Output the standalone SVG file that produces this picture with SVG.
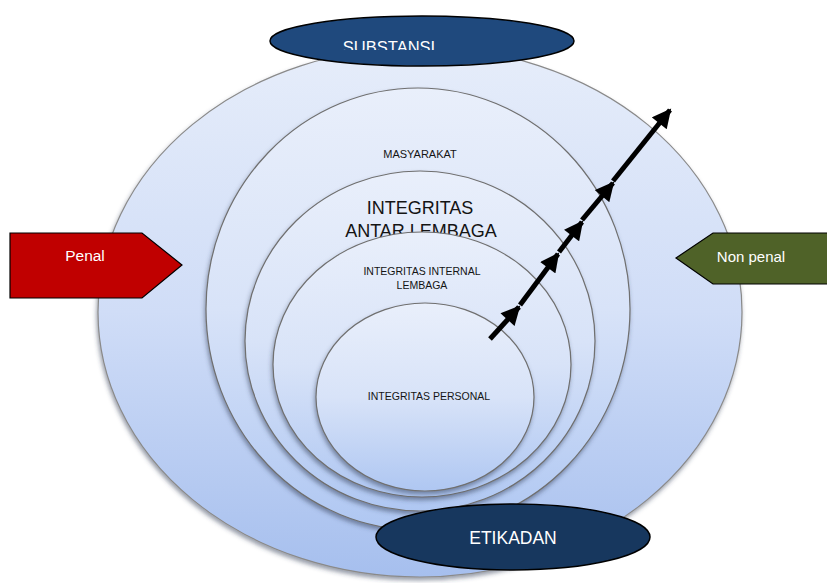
<svg xmlns="http://www.w3.org/2000/svg" width="827" height="583" viewBox="0 0 827 583">
  <style>
    .ring { stroke: #6f6f6f; stroke-width: 1.2; }
    .lbl { font-family: "Liberation Sans", Arial, sans-serif; fill: #141414; text-anchor: middle; }
    .wht { font-family: "Liberation Sans", Arial, sans-serif; fill: #ffffff; text-anchor: middle; }
    .step { stroke: #000; stroke-width: 5; fill: none; marker-end: url(#head); }
  </style>
  <defs>
    <linearGradient id="gOuter" x1="0" y1="0" x2="0" y2="1">
      <stop offset="0" stop-color="#E6EDFA"/>
      <stop offset="0.5" stop-color="#D0DDF7"/>
      <stop offset="1" stop-color="#A6BFEE"/>
    </linearGradient>
    <linearGradient id="gInner" x1="0" y1="0" x2="0" y2="1">
      <stop offset="0" stop-color="#E9EFFB"/>
      <stop offset="0.5" stop-color="#D8E3F8"/>
      <stop offset="1" stop-color="#AFC7F2"/>
    </linearGradient>
    <filter id="shade" x="-10%" y="-10%" width="120%" height="125%">
      <feDropShadow dx="-1" dy="3" stdDeviation="2" flood-color="#2e3b55" flood-opacity="0.5"/>
    </filter>
    <marker id="head" viewBox="0 0 10 10" refX="9" refY="5" markerWidth="4" markerHeight="3.8" orient="auto" markerUnits="strokeWidth">
      <path d="M0,0 L10,5 L0,10 Z" fill="#000"/>
    </marker>
    <clipPath id="clipTop">
      <rect x="300" y="20" width="250" height="30"/>
    </clipPath>
  </defs>

  <!-- outer field -->
  <g id="outer">
    <ellipse cx="420" cy="312" rx="322" ry="265" fill="url(#gOuter)" stroke="#8a8a8a" stroke-width="1.2" filter="url(#shade)"/>
  </g>

  <g id="substansi">
    <ellipse cx="422" cy="41" rx="152" ry="25" fill="#1F497D" stroke="#000" stroke-width="1.5"/>
    <text class="wht" x="389" y="53" font-size="16.5" clip-path="url(#clipTop)">SUBSTANSI</text>
  </g>

  <!-- nested rings -->
  <g id="masyarakat">
    <ellipse class="ring" cx="418" cy="309" rx="212" ry="221" fill="url(#gInner)" filter="url(#shade)"/>
    <text class="lbl" x="420" y="158" font-size="11">MASYARAKAT</text>
  </g>

  <g id="antar-lembaga">
    <ellipse class="ring" cx="420" cy="341" rx="175" ry="170" fill="url(#gInner)" filter="url(#shade)"/>
    <text class="lbl" x="420" y="214" font-size="18">INTEGRITAS</text>
    <text class="lbl" x="421" y="237" font-size="18">ANTAR LEMBAGA</text>
  </g>

  <g id="internal-lembaga">
    <ellipse class="ring" cx="422" cy="364.5" rx="149" ry="132.5" fill="url(#gInner)" filter="url(#shade)"/>
    <text class="lbl" x="422" y="275" font-size="10.5">INTEGRITAS INTERNAL</text>
    <text class="lbl" x="422" y="289" font-size="10.5">LEMBAGA</text>
  </g>

  <g id="personal">
    <ellipse class="ring" cx="425" cy="397" rx="109" ry="94" fill="url(#gInner)" filter="url(#shade)"/>
    <text class="lbl" x="429" y="400" font-size="10.5">INTEGRITAS PERSONAL</text>
  </g>

  <!-- side pointers -->
  <g id="penal">
    <polygon points="10,233 142,233 182,265 142,298 10,298" fill="#C00000" stroke="#000" stroke-width="1.2"/>
    <text class="wht" x="85" y="261" font-size="15.5">Penal</text>
  </g>

  <g id="non-penal">
    <polygon points="676,258 713,233 830,233 830,284 713,284" fill="#4F6228" stroke="#000" stroke-width="1.2"/>
    <text class="wht" x="751" y="262" font-size="15">Non penal</text>
  </g>

  <g id="etikadan">
    <ellipse cx="513" cy="537" rx="137" ry="33" fill="#17375E" stroke="#000" stroke-width="1.5"/>
    <text class="wht" x="513" y="544" font-size="17.5">ETIKADAN</text>
  </g>

  <!-- outward chain of arrows -->
  <g id="connectors">
    <line class="step" x1="490" y1="339" x2="519" y2="307"/>
    <line class="step" x1="520" y1="305" x2="558" y2="254"/>
    <line class="step" x1="559" y1="252" x2="582" y2="222"/>
    <line class="step" x1="582" y1="220" x2="613" y2="183"/>
    <line class="step" x1="613" y1="181" x2="670" y2="110"/>
  </g>
</svg>
